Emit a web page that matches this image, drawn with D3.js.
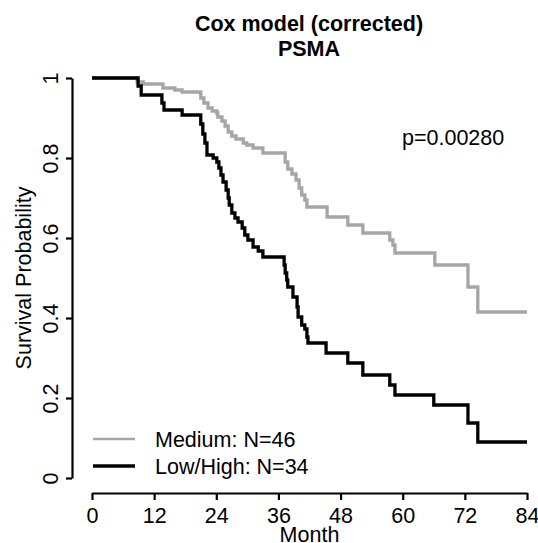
<!DOCTYPE html>
<html>
<head>
<meta charset="utf-8">
<script src="https://cdn.jsdelivr.net/npm/d3@7"></script>
<style>
  body { margin: 0; background: #fff; }
  svg { display: block; font-family: "Liberation Sans", Arial, Helvetica, sans-serif; }
</style>
</head>
<body>
<div id="chart"></div>
<script>
// survival curves (month of each drop, survival level after the drop)
const mediumMonths = [0, 8.7, 9.9, 13.7, 16.0, 17.4, 21.0, 21.6, 22.4, 23.2, 24.1, 24.3, 25.1, 25.7, 26.3, 27.0, 27.8, 29.2, 29.9, 31.1, 33.0, 37.3, 37.8, 38.6, 39.4, 40.0, 40.5, 41.1, 41.5, 45.4, 49.4, 52.3, 57.5, 58.1, 58.5, 66.2, 72.6, 74.5, 84];
const mediumSurv = [1, 0.99, 0.985, 0.975, 0.97, 0.965, 0.95, 0.9375, 0.925, 0.9175, 0.9125, 0.9025, 0.8925, 0.88, 0.865, 0.855, 0.8475, 0.8375, 0.8325, 0.825, 0.8125, 0.79, 0.7725, 0.76, 0.745, 0.725, 0.7075, 0.695, 0.6775, 0.6525, 0.6325, 0.6125, 0.595, 0.5825, 0.5625, 0.5325, 0.4775, 0.415, 0.415];

const lowHighMonths = [0, 8.9, 9.5, 13.5, 13.9, 17.4, 21.0, 21.4, 21.8, 22.2, 23.4, 24.1, 24.5, 24.9, 25.3, 25.9, 26.3, 26.5, 27.0, 27.6, 28.2, 29.0, 29.5, 30.1, 31.1, 32.1, 33.0, 37.1, 37.3, 37.6, 37.8, 38.8, 39.6, 39.8, 40.5, 41.1, 41.5, 41.7, 45.2, 49.4, 52.3, 57.5, 58.5, 66.0, 72.6, 74.5, 84];
const lowHighSurv = [1, 0.98, 0.9575, 0.9375, 0.92, 0.9075, 0.885, 0.86, 0.8375, 0.8075, 0.8, 0.79, 0.775, 0.7575, 0.74, 0.72, 0.7, 0.6825, 0.6625, 0.65, 0.64, 0.625, 0.6075, 0.595, 0.5775, 0.5675, 0.5525, 0.5325, 0.5125, 0.495, 0.4775, 0.4525, 0.4275, 0.4025, 0.3825, 0.3725, 0.3525, 0.3375, 0.3125, 0.2875, 0.2575, 0.2325, 0.2075, 0.1825, 0.1375, 0.09, 0.09];

const xTicks = [0, 12, 24, 36, 48, 60, 72, 84];
const yTicks = [0, 0.2, 0.4, 0.6, 0.8, 1];
const yTickLabels = ["0", "0.2", "0.4", "0.6", "0.8", "1"];
const groupNames = ["Medium: N=46", "Low/High: N=34"];
const groupColors = ["#a6a6a6", "#000000"];
const titleLines = ["Cox model (corrected)", "PSMA"];
const pText = "p=0.00280";

const width = 538, height = 543;
const fontSize = 21.5;

const svg = d3.select("#chart").append("svg")
  .attr("width", width)
  .attr("height", height);

// scales
const x = d3.scaleLinear().domain([0, 84]).range([92, 527]);
const y = d3.scaleLinear().domain([0, 1]).range([478, 78]);

// x axis
const xAxis = svg.append("g")
  .attr("transform", "translate(0,493)")
  .call(d3.axisBottom(x).tickValues(xTicks).tickSize(7).tickSizeOuter(0).tickPadding(8));
xAxis.select(".domain").attr("stroke-width", 2.2);
xAxis.selectAll(".tick line").attr("stroke-width", 2.2);
xAxis.selectAll("text").attr("font-size", fontSize).attr("font-family", null);

// y axis, labels parallel to the axis like R
const yAxis = svg.append("g")
  .attr("transform", "translate(72,0)")
  .call(d3.axisLeft(y).tickValues(yTicks).tickSize(6).tickSizeOuter(0)
    .tickFormat((d, i) => yTickLabels[i]));
yAxis.select(".domain").attr("stroke-width", 2.2);
yAxis.selectAll(".tick line").attr("stroke-width", 2.2);
yAxis.selectAll("text")
  .attr("font-size", fontSize)
  .attr("font-family", null)
  .attr("x", null)
  .attr("dy", null)
  .attr("text-anchor", "middle")
  .attr("transform", "translate(-14,0) rotate(-90)");

// axis titles
svg.append("text")
  .attr("x", x(42))
  .attr("y", 542)
  .attr("text-anchor", "middle")
  .attr("font-size", fontSize)
  .text("Month");

svg.append("text")
  .attr("transform", `translate(31,${y(0.5)}) rotate(-90)`)
  .attr("text-anchor", "middle")
  .attr("font-size", fontSize)
  .text("Survival Probability");

// title
svg.selectAll(".title")
  .data(titleLines)
  .enter().append("text")
  .attr("class", "title")
  .attr("x", 309)
  .attr("y", (d, i) => 31 + i * 25)
  .attr("text-anchor", "middle")
  .attr("font-size", fontSize)
  .attr("font-weight", "bold")
  .text(d => d);

// p value
svg.append("text")
  .attr("x", 402)
  .attr("y", 145)
  .attr("font-size", fontSize)
  .text(pText);

// curves
const line = d3.line()
  .curve(d3.curveStepAfter)
  .x(d => x(d[0]))
  .y(d => y(d[1]));

const series = [
  d3.zip(mediumMonths, mediumSurv),
  d3.zip(lowHighMonths, lowHighSurv)
];

svg.selectAll(".curve")
  .data(series)
  .enter().append("path")
  .attr("class", "curve")
  .attr("fill", "none")
  .attr("stroke", (d, i) => groupColors[i])
  .attr("stroke-width", 3.3)
  .attr("d", line);

// legend
const legend = svg.selectAll(".legend")
  .data(groupNames)
  .enter().append("g")
  .attr("class", "legend")
  .attr("transform", (d, i) => `translate(93,${439 + i * 27})`);

legend.append("line")
  .attr("x1", 0).attr("x2", 42)
  .attr("stroke", (d, i) => groupColors[i])
  .attr("stroke-width", (d, i) => i === 0 ? 2.5 : 3.3);

legend.append("text")
  .attr("x", 62)
  .attr("dy", "0.36em")
  .attr("font-size", fontSize)
  .text(d => d);
</script>
</body>
</html>
